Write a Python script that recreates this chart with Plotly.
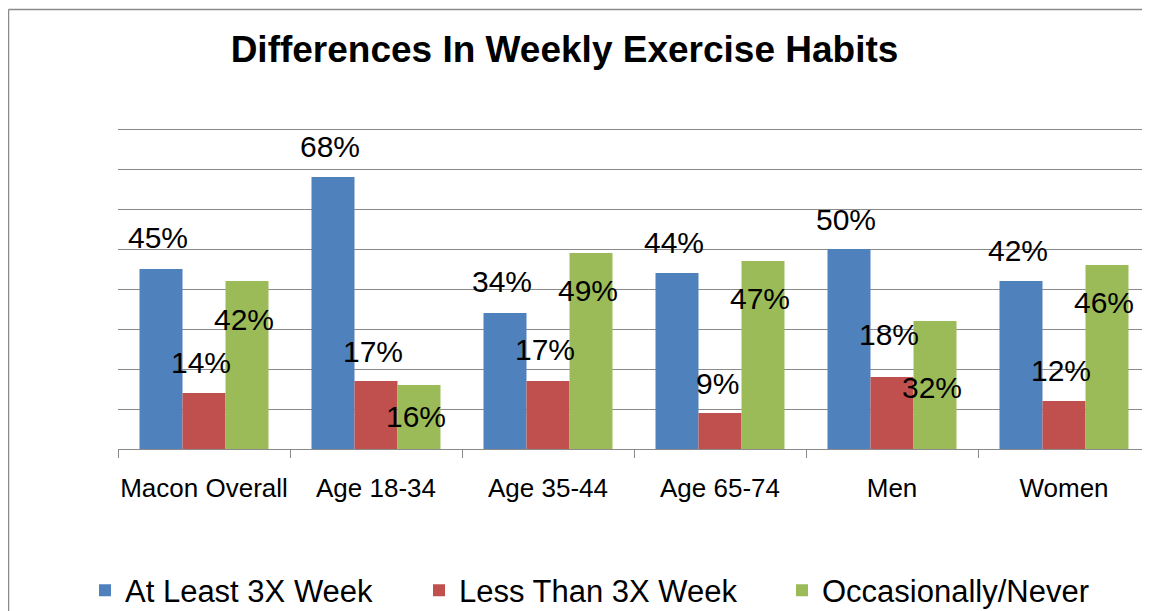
import plotly.graph_objects as go

categories = ["Macon Overall", "Age 18-34", "Age 35-44", "Age 65-74", "Men", "Women"]
series_names = ["At Least 3X Week", "Less Than 3X Week", "Occasionally/Never"]
at_least_3x = [45, 68, 34, 44, 50, 42]
less_than_3x = [14, 17, 17, 9, 18, 12]
occasionally_never = [42, 16, 49, 47, 32, 46]

# label vertical offsets in px (positive = above bar top), as placed in the original
label_shift_blue = [32, 31, 32, 31, 30, 31]
label_shift_red = [31, 30, 32, 30, 43, 31]
label_shift_green = [-38, -31, -37, -37, -66, -37]

colors = ["#4F81BD", "#C0504D", "#9BBB59"]
FONT = "Liberation Sans, Arial, sans-serif"
GRID = "#8A8A8A"

values = [at_least_3x, less_than_3x, occasionally_never]
shifts = [label_shift_blue, label_shift_red, label_shift_green]
xshifts = [-46, -3, 40]
legend_ids = ["legend", "legend2", "legend3"]

# page body margin offsets the figure by 8px; figure sized to fit the 1150x611 window
OFF = 8
W, H = 1150 - OFF, 611 - OFF
Y_MAX = 82.0
PX_PER_UNIT = 4.0
L, R_EDGE, BOT = 118 - OFF, 1150 - OFF, 449 - OFF
TOP = BOT - Y_MAX * PX_PER_UNIT
PW = float(R_EDGE - L)
PH = float(BOT - TOP)


def px_x(p):  # screen px -> paper x
    return (p - OFF - L) / PW


def px_y(p):  # screen px -> paper y
    return (BOT - (p - OFF)) / PH


fig = go.Figure()
for name, vals, col, lg in zip(series_names, values, colors, legend_ids):
    fig.add_trace(go.Bar(x=categories, y=vals, name=name, marker=dict(color=col, line=dict(width=0)),
                         legend=lg, hoverinfo="x+y"))

annotations = []
for vals, sh, xs in zip(values, shifts, xshifts):
    for c, v, s in zip(categories, vals, sh):
        annotations.append(dict(x=c, y=v, text=f"{v}%", showarrow=False, xshift=xs, yshift=s,
                                xanchor="center", yanchor="middle",
                                font=dict(family=FONT, size=30, color="#000000")))

shapes = [
    dict(type="line", xref="paper", yref="paper", x0=px_x(8.5), x1=px_x(1200), y0=px_y(9.5), y1=px_y(9.5),
         line=dict(color=GRID, width=1.5)),
    dict(type="line", xref="paper", yref="paper", x0=px_x(8.5), x1=px_x(8.5), y0=px_y(9.5), y1=px_y(700),
         line=dict(color=GRID, width=1.5)),
]

leg_common = dict(orientation="h", yanchor="middle", y=px_y(590.5), xanchor="left",
                  font=dict(family=FONT, size=31, color="#000000"), bgcolor="rgba(0,0,0,0)",
                  borderwidth=0)

fig.update_layout(
    width=W, height=H,
    margin=dict(l=L, r=W - R_EDGE, t=TOP, b=H - BOT, autoexpand=False),
    paper_bgcolor="white", plot_bgcolor="white",
    barmode="group", bargap=0.25, bargroupgap=0,
    title=dict(text="<b>Differences In Weekly Exercise Habits</b>", x=(564.5 - OFF) / W, xref="container",
               xanchor="center", y=1 - (49.5 - OFF) / H, yref="container", yanchor="middle",
               font=dict(family=FONT, size=37, color="#000000")),
    xaxis=dict(type="category", tickson="boundaries", ticks="outside", ticklen=8, tickcolor=GRID,
               tickwidth=1, showline=True, linecolor=GRID, linewidth=1, showgrid=False,
               tickangle=0, automargin=False, ticklabelstandoff=16,
               tickfont=dict(family=FONT, size=26, color="#000000")),
    yaxis=dict(range=[0, Y_MAX], tickmode="linear", tick0=0, dtick=10, showticklabels=False,
               showgrid=True, gridcolor=GRID, gridwidth=1, zeroline=False, ticks="", automargin=False),
    legend=dict(x=px_x(85), **leg_common),
    legend2=dict(x=px_x(419), **leg_common),
    legend3=dict(x=px_x(782), **leg_common),
    annotations=annotations,
    shapes=shapes,
    showlegend=True,
)

fig.write_html("out.html")
